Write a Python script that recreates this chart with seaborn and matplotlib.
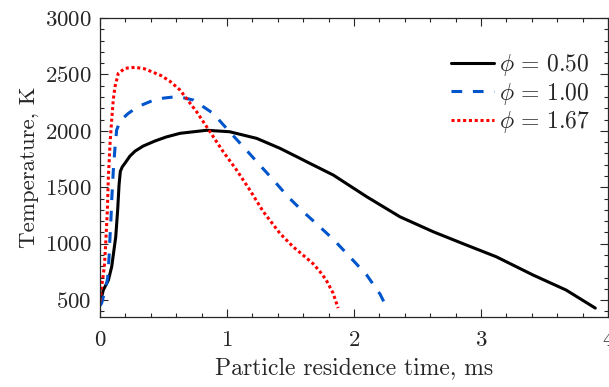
import matplotlib
matplotlib.use("Agg")
import matplotlib.pyplot as plt
import seaborn as sns
import pandas as pd
from matplotlib.ticker import MultipleLocator

# ---- data ----
t_050 = [0, 0.026, 0.066, 0.092, 0.124, 0.139, 0.150, 0.160, 0.175, 0.197, 0.235, 0.276,
         0.34, 0.433, 0.52, 0.63, 0.84, 1.02, 1.234, 1.417, 1.575, 1.627, 1.837, 2.10,
         2.362, 2.625, 2.887, 3.12, 3.41, 3.67, 3.90]
T_050 = [470, 589, 677, 795, 1061, 1298, 1520, 1640, 1680, 1714, 1775, 1820,
         1865, 1910, 1945, 1978, 2005, 1992, 1933, 1845, 1756, 1726, 1608, 1416,
         1238, 1105, 987, 884, 722, 589, 429]

t_100 = [0, 0.013, 0.04, 0.06, 0.071, 0.079, 0.087, 0.092, 0.105, 0.118, 0.131, 0.16,
         0.223, 0.30, 0.407, 0.50, 0.58, 0.65, 0.735, 0.89, 1.02, 1.14, 1.246, 1.365,
         1.48, 1.60, 1.73, 1.84, 1.97, 2.10, 2.205, 2.26]
T_100 = [450, 473, 590, 690, 875, 1065, 1235, 1380, 1650, 1850, 2007, 2090,
         2155, 2215, 2265, 2290, 2300, 2295, 2273, 2155, 1992, 1845, 1712, 1564,
         1416, 1283, 1150, 1035, 880, 722, 553, 429]

t_167 = [0, 0.013, 0.034, 0.045, 0.058, 0.066, 0.079, 0.092, 0.105, 0.118, 0.144, 0.197,
         0.276, 0.35, 0.407, 0.48, 0.55, 0.63, 0.76, 0.866, 0.97, 1.076, 1.18, 1.286,
         1.417, 1.52, 1.614, 1.68, 1.73, 1.78, 1.835, 1.875]
T_167 = [490, 618, 795, 1003, 1298, 1593, 1889, 2096, 2280, 2390, 2510, 2554,
         2563, 2550, 2524, 2490, 2440, 2362, 2170, 1992, 1815, 1652, 1475, 1283,
         1091, 973, 884, 820, 755, 680, 562, 429]

labels = [r"$\phi\,=\,0.50$", r"$\phi\,=\,1.00$", r"$\phi\,=\,1.67$"]
colors = ["#000000", "#0055cc", "#ff0000"]
styles = ["-", (0, (3.5, 3.5)), (0, (1, 0.9))]

sns.set_style("ticks")
plt.rcParams["font.family"] = "serif"
plt.rcParams["font.serif"] = ["cmr10"]
plt.rcParams["mathtext.fontset"] = "cm"
plt.rcParams["axes.formatter.use_mathtext"] = True
plt.rcParams["axes.unicode_minus"] = False

TXT = "#262626"
fig = plt.figure(figsize=(6.09, 3.87), dpi=100)
ax = fig.add_axes([100 / 609, 1 - 317 / 387, 508 / 609, 299 / 387])

series = [(t_050, T_050), (t_100, T_100), (t_167, T_167)]
for (t, T), lab, col, ls in zip(series, labels, colors, styles):
    df = pd.DataFrame({"t": t, "T": T})
    sns.lineplot(data=df, x="t", y="T", ax=ax, color=col, label=lab, linewidth=2.2,
                 linestyle=ls, sort=False, estimator=None)

ax.set_xlim(0, 4)
ax.set_ylim(350, 3000)
ax.set_xticks([0, 1, 2, 3, 4])
ax.set_yticks([500, 1000, 1500, 2000, 2500, 3000])
ax.xaxis.set_minor_locator(MultipleLocator(0.2))
ax.yaxis.set_minor_locator(MultipleLocator(100))
ax.tick_params(which="both", direction="in", top=True, right=True, colors=TXT,
               labelsize=16.5, width=0.8)
ax.tick_params(axis="y", which="major", pad=6)
ax.tick_params(axis="x", which="major", pad=10)
ax.tick_params(which="major", length=5.5)
ax.tick_params(which="minor", length=3)
for sp in ax.spines.values():
    sp.set_color(TXT)
    sp.set_linewidth(0.9)

ax.set_xlabel("Particle residence time, ms", fontsize=17, color=TXT, labelpad=5)
ax.set_ylabel("Temperature, K", fontsize=16.5, color=TXT, labelpad=4)

leg = ax.legend(loc="upper right", frameon=False, fontsize=17, handlelength=1.8,
                handletextpad=0.2, labelspacing=0.1, borderaxespad=0, borderpad=0,
                bbox_to_anchor=(0.964, 0.885))
for txt in leg.get_texts():
    txt.set_color(TXT)

fig.savefig("out.png", dpi=100)
